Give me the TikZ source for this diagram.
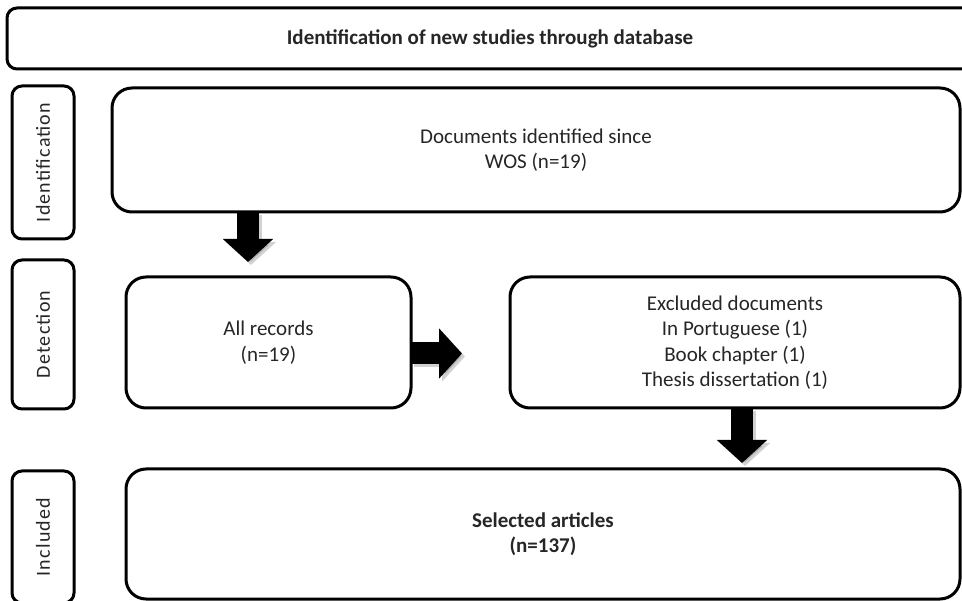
\documentclass[tikz,border=0pt]{standalone}
\usepackage{fontspec}
\setmainfont{Carlito}
\usetikzlibrary{arrows.meta,calc}
\tikzset{
  box/.style={draw=black, line width=3pt, fill=white, rounded corners=20pt,
    inner sep=0pt, outer sep=0pt, align=center,
    font=\fontsize{21}{25.5}\selectfont, text=black!85},
  boldbox/.style={box, font=\fontsize{21}{25.5}\selectfont\bfseries},
  labbox/.style={draw=black, line width=3pt, fill=white, rounded corners=10pt,
    inner sep=0pt, outer sep=0pt, rotate=90,
    font=\fontsize{20}{24}\selectfont\addfontfeature{LetterSpace=6}, text=black!85},
  bigarrow/.style={line width=22pt, draw=black, -{Triangle[length=23pt,width=49pt]}},
  arrowshade/.style={bigarrow, draw=black, opacity=0.18, transform canvas={shift={(3pt,-3pt)}}},
}
\begin{document}
\begin{tikzpicture}[x=1pt,y=-1pt]
\useasboundingbox (0,0) rectangle (962,601);
% title
\node[boldbox, rounded corners=10pt, minimum width=966pt, minimum height=61pt] (title) at (490,38.5)
  {Identification of new studies through database};
% phase labels
\node[labbox, minimum width=153pt, minimum height=62pt] (lid) at (43,162.5) {Identification};
\node[labbox, minimum width=149pt, minimum height=62pt] (ldet) at (43,334.5) {Detection};
\node[labbox, minimum width=132pt, minimum height=62pt] (linc) at (43,537) {Included};
% main boxes
\node[box, minimum width=848pt, minimum height=124pt] (ident) at (536,150)
  {Documents identified since\\WOS (n=19)};
\node[box, minimum width=285pt, minimum height=131pt] (allrec) at (268.5,342.5)
  {All records\\(n=19)};
\node[box, minimum width=450pt, minimum height=131pt] (excl) at (735,342.5)
  {Excluded documents\\In Portuguese (1)\\Book chapter (1)\\Thesis dissertation (1)};
\node[boldbox, minimum width=834pt, minimum height=130pt] (sel) at (543,534)
  {Selected articles\\(n=137)};
% arrows (shadows first)
\draw[arrowshade, shorten >=15pt] ([xshift=136pt]ident.south west) -- ([xshift=122pt]allrec.north west);
\draw[bigarrow, shorten >=15pt] ([xshift=136pt]ident.south west) -- ([xshift=122pt]allrec.north west);
\draw[arrowshade, shorten >=48pt] ([yshift=-11pt]allrec.east) -- ([yshift=-11pt]excl.west);
\draw[bigarrow, shorten >=48pt] ([yshift=-11pt]allrec.east) -- ([yshift=-11pt]excl.west);
\draw[arrowshade, shorten >=6pt] ([xshift=7pt]excl.south) -- ([xshift=7pt]excl.south |- sel.north);
\draw[bigarrow, shorten >=6pt] ([xshift=7pt]excl.south) -- ([xshift=7pt]excl.south |- sel.north);
\end{tikzpicture}
\end{document}
